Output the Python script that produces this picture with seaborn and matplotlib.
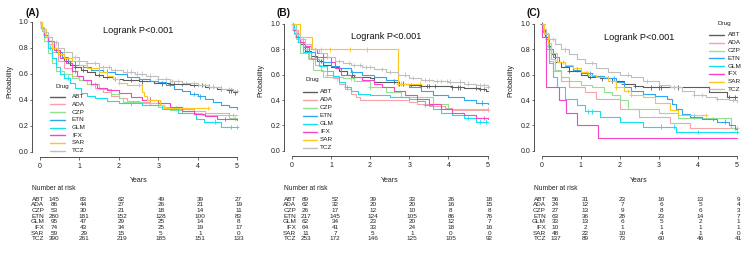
import numpy as np
import pandas as pd
import matplotlib
matplotlib.use("Agg")
import matplotlib.pyplot as plt
import seaborn as sns
from matplotlib.lines import Line2D
from matplotlib import transforms

sns.set_theme(style="white")
plt.rcParams['font.family'] = ['Liberation Sans', 'DejaVu Sans']

# ---------------- data ----------------
DRUGS = ["ABT", "ADA", "CZP", "ETN", "GLM", "IFX", "SAR", "TCZ"]
COLORS = ["#5c5c5c", "#f7a3aa", "#90e290", "#2ea6f2", "#12e2f0", "#f544c8", "#ffc61e", "#bfbfbf"]
YEARS = [0, 1, 2, 3, 4, 5]
Y_TICKS = [0.0, 0.2, 0.4, 0.6, 0.8, 1.0]
PANELS = ["A", "B", "C"]
LOGRANK = "Logrank P<0.001"

# Panel A
A_ABT_T = [0, 0.03, 0.1, 0.2, 0.3, 0.45, 0.6, 0.75, 0.9, 1.05, 1.2, 1.4, 1.6, 1.85, 2.1, 2.5, 2.9, 3.3, 3.8, 4.2, 4.5, 4.75, 4.9, 5.0]
A_ABT_S = [1.0, 0.95, 0.9, 0.85, 0.8, 0.75, 0.7, 0.67, 0.65, 0.63, 0.61, 0.59, 0.575, 0.56, 0.55, 0.54, 0.525, 0.52, 0.51, 0.5, 0.485, 0.47, 0.455, 0.455]
A_ABT_C = [0.7, 0.72, 0.9, 1.1, 1.5, 1.7, 1.9, 2.3, 2.6, 3.1, 3.3, 3.4, 3.6, 3.9, 4.1, 4.3, 4.6, 4.8, 4.85, 4.95]
A_ADA_T = [0, 0.03, 0.1, 0.2, 0.3, 0.45, 0.6, 0.8, 1.0, 1.2, 1.4, 1.6, 1.8, 2.0, 2.2, 2.5, 2.8, 3.1, 3.5, 3.9, 4.2, 4.8, 5.0]
A_ADA_S = [1.0, 0.95, 0.9, 0.83, 0.77, 0.7, 0.64, 0.58, 0.55, 0.52, 0.49, 0.46, 0.43, 0.41, 0.39, 0.38, 0.36, 0.345, 0.33, 0.31, 0.295, 0.28, 0.28]
A_ADA_C = [1.3, 4.9]
A_CZP_T = [0, 0.05, 0.1, 0.2, 0.3, 0.4, 0.6, 0.8, 1.0, 1.2, 1.5, 1.8, 2.0, 2.1, 2.6, 3.0, 3.3, 3.6, 4.1, 4.8, 5.0]
A_CZP_S = [1.0, 0.93, 0.85, 0.76, 0.68, 0.62, 0.6, 0.57, 0.55, 0.52, 0.48, 0.44, 0.41, 0.38, 0.37, 0.34, 0.32, 0.3, 0.28, 0.255, 0.255]
A_CZP_C = [1.4, 3.9, 4.95]
A_ETN_T = [0, 0.03, 0.1, 0.2, 0.3, 0.4, 0.55, 0.7, 0.9, 1.1, 1.3, 1.6, 1.9, 2.2, 2.5, 2.8, 3.0, 3.2, 3.4, 3.6, 3.8, 4.0, 4.2, 4.4, 4.6, 4.8, 5.0]
A_ETN_S = [1.0, 0.95, 0.9, 0.85, 0.8, 0.77, 0.73, 0.7, 0.67, 0.65, 0.63, 0.615, 0.6, 0.575, 0.56, 0.545, 0.535, 0.51, 0.485, 0.465, 0.445, 0.425, 0.405, 0.385, 0.36, 0.34, 0.325]
A_ETN_C = [1.7, 3.9, 4.05]
A_GLM_T = [0, 0.03, 0.1, 0.2, 0.3, 0.4, 0.5, 0.6, 0.75, 0.9, 1.05, 1.2, 1.4, 1.7, 2.0, 2.6, 3.1, 3.5, 3.95, 4.15, 4.6, 5.0]
A_GLM_S = [1.0, 0.95, 0.88, 0.8, 0.72, 0.65, 0.6, 0.57, 0.53, 0.49, 0.45, 0.43, 0.41, 0.39, 0.37, 0.36, 0.33, 0.3, 0.25, 0.23, 0.19, 0.19]
A_GLM_C = [0.25, 0.7, 2.3, 3.45, 4.45, 4.85, 5.0]
A_IFX_T = [0, 0.03, 0.1, 0.2, 0.35, 0.5, 0.65, 0.8, 0.95, 1.1, 1.3, 1.45, 1.7, 2.0, 2.3, 2.6, 3.0, 3.3, 3.6, 3.9, 4.2, 4.5, 5.0]
A_IFX_S = [1.0, 0.96, 0.9, 0.85, 0.78, 0.72, 0.68, 0.62, 0.58, 0.55, 0.52, 0.49, 0.47, 0.45, 0.42, 0.4, 0.37, 0.34, 0.31, 0.29, 0.27, 0.25, 0.24]
A_IFX_C = [0.9, 2.8, 4.7]
A_SAR_T = [0, 0.05, 0.15, 0.3, 0.45, 0.6, 0.8, 1.0, 1.2, 1.5, 1.7, 1.85, 2.0, 2.2, 2.6, 2.65, 2.72, 3.05, 3.15, 4.27]
A_SAR_S = [1.0, 0.94, 0.88, 0.8, 0.75, 0.72, 0.7, 0.67, 0.64, 0.61, 0.58, 0.56, 0.53, 0.51, 0.46, 0.43, 0.4, 0.36, 0.335, 0.335]
A_SAR_C = [1.3, 1.9, 2.0, 2.5, 4.27]
A_TCZ_T = [0, 0.03, 0.1, 0.2, 0.3, 0.45, 0.6, 0.8, 1.0, 1.2, 1.5, 1.8, 2.1, 2.4, 2.7, 3.0, 3.3, 3.6, 4.0, 4.3, 4.6, 4.9, 5.0]
A_TCZ_S = [1.0, 0.96, 0.92, 0.88, 0.84, 0.8, 0.77, 0.73, 0.7, 0.68, 0.65, 0.63, 0.615, 0.6, 0.585, 0.56, 0.545, 0.53, 0.51, 0.5, 0.48, 0.465, 0.465]
A_TCZ_C = [0.2, 0.4, 0.6, 0.9, 1.2, 1.4, 1.6, 1.75, 1.9, 2.2, 2.3, 2.45, 2.6, 2.8, 3.0, 3.2, 3.35, 3.5, 3.7, 3.9, 4.0, 4.2, 4.4, 4.6, 4.8, 5.0]

# Panel B
B_ABT_T = [0, 0.03, 0.1, 0.2, 0.35, 0.5, 0.65, 0.8, 1.0, 1.2, 1.4, 1.6, 2.0, 2.1, 2.7, 3.0, 3.3, 4.1, 4.4, 4.8, 4.95, 5.0]
B_ABT_S = [1.0, 0.95, 0.9, 0.84, 0.79, 0.75, 0.71, 0.68, 0.66, 0.63, 0.6, 0.585, 0.57, 0.545, 0.53, 0.52, 0.51, 0.5, 0.495, 0.485, 0.47, 0.47]
B_ABT_C = [0.75, 1.55, 2.6, 2.75, 2.85, 3.05, 3.3, 3.45, 3.5, 3.65, 4.1, 4.25, 4.3, 4.7, 4.8, 4.9]
B_ADA_T = [0, 0.05, 0.15, 0.3, 0.45, 0.6, 0.75, 0.9, 1.05, 1.2, 1.35, 1.5, 1.65, 1.75, 3.0, 3.2, 3.5, 3.9, 4.1, 5.0]
B_ADA_S = [1.0, 0.95, 0.88, 0.8, 0.73, 0.68, 0.63, 0.6, 0.57, 0.53, 0.49, 0.45, 0.42, 0.4, 0.385, 0.37, 0.35, 0.335, 0.325, 0.325]
B_ADA_C = [0.05, 0.4, 0.9, 1.15, 5.0]
B_CZP_T = [0, 0.1, 0.2, 0.42, 0.55, 0.8, 1.3, 1.6, 2.0, 2.4, 2.8, 3.6, 4.0, 5.0]
B_CZP_S = [1.0, 0.88, 0.77, 0.72, 0.64, 0.585, 0.57, 0.55, 0.5, 0.46, 0.42, 0.37, 0.33, 0.33]
B_CZP_C = [1.5, 2.0]
B_ETN_T = [0, 0.03, 0.1, 0.2, 0.3, 0.45, 0.6, 0.8, 1.0, 1.2, 1.5, 1.8, 2.1, 2.4, 2.7, 3.0, 3.3, 3.6, 4.0, 4.4, 4.7, 5.0]
B_ETN_S = [1.0, 0.95, 0.9, 0.86, 0.82, 0.78, 0.74, 0.7, 0.67, 0.65, 0.62, 0.6, 0.58, 0.56, 0.53, 0.5, 0.47, 0.44, 0.42, 0.4, 0.38, 0.365]
B_ETN_C = [1.55, 4.85]
B_GLM_T = [0, 0.05, 0.15, 0.3, 0.5, 0.7, 0.9, 1.05, 1.2, 1.35, 1.5, 1.7, 2.0, 2.5, 3.0, 3.2, 3.4, 3.6, 3.8, 4.1, 4.4, 4.7, 5.0]
B_GLM_S = [1.0, 0.93, 0.86, 0.78, 0.72, 0.67, 0.63, 0.59, 0.54, 0.5, 0.47, 0.45, 0.44, 0.42, 0.41, 0.39, 0.36, 0.33, 0.3, 0.28, 0.26, 0.23, 0.23]
B_GLM_C = [0.2, 0.6, 1.4, 3.4, 4.5, 4.8, 4.95]
B_IFX_T = [0, 0.03, 0.1, 0.2, 0.35, 0.5, 0.65, 0.8, 1.0, 1.1, 1.25, 1.5, 1.8, 2.1, 2.3, 2.6, 2.9, 3.2, 3.5, 3.8, 4.1, 4.4, 4.7, 5.0]
B_IFX_S = [1.0, 0.95, 0.9, 0.86, 0.83, 0.8, 0.77, 0.74, 0.7, 0.65, 0.6, 0.58, 0.56, 0.53, 0.5, 0.47, 0.44, 0.41, 0.37, 0.33, 0.3, 0.28, 0.26, 0.25]
B_IFX_C = [0.15, 0.8, 1.0, 4.9]
B_SAR_T = [0, 0.22, 0.51, 2.72, 3.27]
B_SAR_S = [1.0, 0.9, 0.8, 0.53, 0.53]
B_SAR_C = [0.03, 0.75, 0.98, 1.49, 1.93, 2.72, 2.8, 3.27]
B_TCZ_T = [0, 0.03, 0.1, 0.2, 0.35, 0.5, 0.7, 0.9, 1.1, 1.3, 1.5, 1.8, 2.1, 2.4, 2.7, 3.0, 3.3, 3.6, 4.0, 4.4, 4.7, 5.0]
B_TCZ_S = [1.0, 0.96, 0.92, 0.88, 0.84, 0.8, 0.77, 0.74, 0.71, 0.69, 0.675, 0.66, 0.645, 0.62, 0.6, 0.575, 0.56, 0.55, 0.545, 0.53, 0.515, 0.505]
B_TCZ_C = [0.1, 0.3, 0.6, 0.9, 1.2, 1.45, 1.6, 1.75, 1.9, 2.0, 2.3, 2.5, 2.9, 3.1, 3.4, 3.5, 3.7, 3.8, 3.95, 4.05, 4.3, 4.5, 4.8, 4.9, 5.0]

# Panel C
C_ABT_T = [0, 0.03, 0.08, 0.15, 0.25, 0.35, 0.5, 0.7, 1.0, 1.2, 1.5, 1.8, 2.1, 2.4, 2.6, 4.3, 4.75, 5.0]
C_ABT_S = [1.0, 0.95, 0.9, 0.83, 0.76, 0.7, 0.66, 0.63, 0.6, 0.58, 0.57, 0.55, 0.53, 0.51, 0.5, 0.46, 0.42, 0.42]
C_ABT_C = [0.02, 0.7, 1.25, 1.55, 1.7, 1.8, 2.1, 2.4, 2.8, 3.0, 3.05, 3.5, 4.8, 4.95]
C_ADA_T = [0, 0.05, 0.1, 0.2, 0.3, 0.5, 0.7, 1.1, 1.4, 2.0, 2.5, 3.3, 3.8, 5.0]
C_ADA_S = [1.0, 0.92, 0.83, 0.71, 0.63, 0.55, 0.5, 0.46, 0.41, 0.33, 0.27, 0.22, 0.18, 0.18]
C_ADA_C = [5.0]
C_CZP_T = [0, 0.05, 0.15, 0.25, 0.35, 0.5, 0.7, 1.0, 1.3, 1.6, 1.8, 2.0, 2.2, 3.0, 3.5, 4.85, 5.0]
C_CZP_S = [1.0, 0.93, 0.82, 0.72, 0.64, 0.58, 0.55, 0.52, 0.5, 0.46, 0.44, 0.4, 0.33, 0.3, 0.26, 0.18, 0.18]
C_CZP_C = [4.95]
C_ETN_T = [0, 0.03, 0.1, 0.2, 0.3, 0.45, 0.6, 0.8, 1.0, 1.3, 1.6, 1.9, 2.1, 2.3, 2.6, 2.9, 3.2, 3.35, 3.45, 3.6, 3.8, 4.1, 4.5, 4.8, 4.95, 5.0]
C_ETN_S = [1.0, 0.94, 0.88, 0.8, 0.74, 0.7, 0.67, 0.64, 0.61, 0.59, 0.57, 0.54, 0.5, 0.47, 0.45, 0.43, 0.41, 0.37, 0.33, 0.29, 0.27, 0.25, 0.23, 0.2, 0.17, 0.17]
C_ETN_C = [0.15, 0.9, 1.15, 1.25, 1.85, 3.9, 4.4, 4.7]
C_GLM_T = [0, 0.03, 0.1, 0.2, 0.3, 0.4, 0.6, 0.9, 1.1, 1.5, 2.0, 2.6, 3.45, 5.0]
C_GLM_S = [1.0, 0.94, 0.8, 0.69, 0.58, 0.5, 0.41, 0.36, 0.31, 0.27, 0.23, 0.19, 0.15, 0.15]
C_GLM_C = [1.2, 1.3, 3.05, 3.4, 4.0, 5.0]
C_IFX_T = [0, 0.02, 0.1, 0.45, 0.62, 0.91, 1.44, 5.0]
C_IFX_S = [1.0, 0.9, 0.5, 0.4, 0.3, 0.2, 0.1, 0.1]
C_IFX_C = []
C_SAR_T = [0, 0.05, 0.15, 0.25, 0.4, 0.6, 0.8, 1.0, 1.2, 1.4, 1.7, 1.9, 2.1, 2.3, 2.6, 2.9, 3.3, 3.5, 4.2]
C_SAR_S = [1.0, 0.93, 0.85, 0.77, 0.7, 0.68, 0.65, 0.62, 0.6, 0.58, 0.55, 0.5, 0.47, 0.44, 0.42, 0.38, 0.32, 0.28, 0.28]
C_SAR_C = [0.55, 1.5, 1.9, 2.2, 2.3, 4.2]
C_TCZ_T = [0, 0.03, 0.1, 0.2, 0.35, 0.5, 0.7, 0.9, 1.1, 1.4, 1.7, 2.0, 2.3, 2.6, 3.0, 3.3, 3.6, 3.9, 4.2, 4.5, 4.8, 5.0]
C_TCZ_S = [1.0, 0.96, 0.92, 0.88, 0.84, 0.8, 0.76, 0.72, 0.69, 0.65, 0.62, 0.6, 0.58, 0.55, 0.52, 0.5, 0.47, 0.44, 0.42, 0.41, 0.4, 0.385]
C_TCZ_C = [0.3, 0.6, 1.3, 2.2, 2.7, 3.4, 3.9, 4.1, 4.5, 4.9]

# Numbers at risk (years 0..5)
A_ABT_N = [145, 83, 62, 49, 39, 27]
A_ADA_N = [86, 44, 27, 26, 21, 19]
A_CZP_N = [53, 30, 21, 18, 14, 11]
A_ETN_N = [280, 181, 152, 128, 100, 83]
A_GLM_N = [95, 47, 29, 25, 14, 8]
A_IFX_N = [74, 43, 34, 25, 19, 17]
A_SAR_N = [59, 29, 15, 5, 1, 0]
A_TCZ_N = [390, 261, 219, 185, 151, 133]

B_ABT_N = [89, 52, 39, 33, 26, 18]
B_ADA_N = [62, 32, 20, 20, 16, 15]
B_CZP_N = [26, 17, 12, 10, 8, 8]
B_ETN_N = [217, 145, 124, 105, 86, 76]
B_GLM_N = [62, 34, 23, 20, 12, 7]
B_IFX_N = [64, 41, 33, 24, 18, 16]
B_SAR_N = [11, 7, 5, 1, 0, 0]
B_TCZ_N = [253, 172, 146, 125, 105, 92]

C_ABT_N = [56, 31, 23, 16, 13, 9]
C_ADA_N = [24, 12, 7, 6, 5, 4]
C_CZP_N = [27, 13, 9, 8, 6, 3]
C_ETN_N = [63, 36, 28, 23, 14, 7]
C_GLM_N = [33, 13, 6, 5, 2, 1]
C_IFX_N = [10, 2, 1, 1, 1, 1]
C_SAR_N = [48, 22, 10, 4, 1, 0]
C_TCZ_N = [137, 89, 73, 60, 46, 41]

# ---------------- layout (pixels) ----------------
W, H = 750, 265
AX_BOX = {"A": (32.1, 16.5, 244.9, 156.7),
          "B": (283.9, 18.9, 495.5, 155.8),
          "C": (533.9, 18.9, 744.5, 155.8)}
LABEL_X = {"A": 26, "B": 276.5, "C": 526.5}
LOGRANK_POS = {"A": (2.5, 0.93), "B": (2.42, 0.90), "C": (2.51, 0.89)}
# title_x, title_y, line_x0, line_x1, text_x, row0_y, row_dy
LEG = {"A": (55, 87, 50, 65, 72, 96.7, 7.71),
       "B": (305, 80, 302.7, 316.7, 320, 91.7, 8.0),
       "C": (718, 24, 709, 724, 727.7, 35, 7.76)}
COL_X = [0.355, 1.11, 2.07, 3.07, 4.06, 5.04]
ROW_Y0, ROW_DY = 199.3, 5.67

fig = plt.figure(figsize=(W / 100, H / 100), dpi=100)
fig.patch.set_facecolor("white")


def fx(px):
    return px / W


def fy(py):
    return 1 - py / H


palette = dict(zip(DRUGS, COLORS))

for p in PANELS:
    l, t, r, b = AX_BOX[p]
    ax = fig.add_axes([fx(l), fy(b), (r - l) / W, (b - t) / H])
    ax.set_facecolor("white")

    rows, cens, = [], []
    for d in DRUGS:
        T = globals()[f"{p}_{d}_T"]
        S = globals()[f"{p}_{d}_S"]
        C = globals()[f"{p}_{d}_C"]
        for ti, si in zip(T, S):
            rows.append((d, ti, si))
        Ta = np.asarray(T)
        for c in C:
            idx = np.searchsorted(Ta, c, side="right") - 1
            cens.append((d, c, S[idx]))
    df = pd.DataFrame(rows, columns=["Drug", "Years", "Probability"])
    cdf = pd.DataFrame(cens, columns=["Drug", "Years", "Probability"])

    sns.lineplot(data=df, x="Years", y="Probability", hue="Drug", hue_order=DRUGS,
                 palette=palette, estimator=None, sort=False, drawstyle="steps-post",
                 linewidth=0.8, legend=False, ax=ax)
    sns.scatterplot(data=cdf, x="Years", y="Probability", hue="Drug", hue_order=DRUGS,
                    palette=palette, marker="+", s=10, linewidth=0.6, legend=False, ax=ax)

    ax.set_xlim(-0.2, 5.2)
    ax.set_ylim(-0.04, 1.04)
    ax.set_xticks(YEARS)
    ax.set_xticklabels([str(y) for y in YEARS])
    ax.set_yticks(Y_TICKS)
    ax.set_yticklabels([f"{v:.1f}" for v in Y_TICKS])
    for s in ["top", "right"]:
        ax.spines[s].set_visible(False)
    ax.spines["left"].set_bounds(0, 1)
    ax.spines["bottom"].set_bounds(0, 5)
    for s in ["left", "bottom"]:
        ax.spines[s].set_linewidth(0.6)
        ax.spines[s].set_color("#333333")
    ax.tick_params(axis="both", which="both", bottom=True, left=True, direction="out",
                   length=1.8, width=0.5, color="#333333", labelsize=5, labelcolor="#222222")
    ax.tick_params(axis="y", pad=0.9)
    ax.tick_params(axis="x", pad=2.6)

    ax.set_ylabel("Probability", fontsize=5, color="#222222")
    ax.yaxis.set_label_coords(-22.6 / (r - l), (b - 81) / (b - t))
    ax.yaxis.label.set_va("center")
    ax.set_xlabel("Years", fontsize=5, color="#222222")
    ax.xaxis.set_label_coords(0.5, (b - 180) / (b - t))
    ax.xaxis.label.set_va("center")

    lx, ly = LOGRANK_POS[p]
    ax.text(lx, ly, LOGRANK, ha="center", va="center", fontsize=6.6, color="#111111")

    fig.text(fx(LABEL_X[p]), fy(13.5), f"({p})", fontsize=7.3, fontweight="bold",
             va="center", ha="left", color="#111111")

    # legend
    tx, ty, lx0, lx1, txx, ry0, rdy = LEG[p]
    fig.text(fx(tx), fy(ty), "Drug", fontsize=4.6, va="center", ha="left", color="#222222")
    for i, d in enumerate(DRUGS):
        yy = fy(ry0 + i * rdy)
        fig.add_artist(Line2D([fx(lx0), fx(lx1)], [yy, yy], color=palette[d], lw=1.0,
                              transform=fig.transFigure))
        fig.text(fx(txx), yy, d, fontsize=4.6, va="center", ha="left", color="#222222")

    # risk table
    tr = transforms.blended_transform_factory(ax.transData, fig.transFigure)
    ax.text(-0.195, fy(188), "Number at risk", transform=tr, fontsize=4.8,
            ha="left", va="center", color="#222222", clip_on=False)
    for i, d in enumerate(DRUGS):
        yy = fy(ROW_Y0 + i * ROW_DY)
        ax.text(0.11, yy, d, transform=tr, fontsize=4.6, ha="right", va="center",
                color="#222222", clip_on=False)
        N = globals()[f"{p}_{d}_N"]
        for j, n in enumerate(N):
            ax.text(COL_X[j], yy, str(n), transform=tr, fontsize=4.6, ha="center",
                    va="center", color="#222222", clip_on=False)

fig.savefig("out.png", dpi=100, facecolor="white")
